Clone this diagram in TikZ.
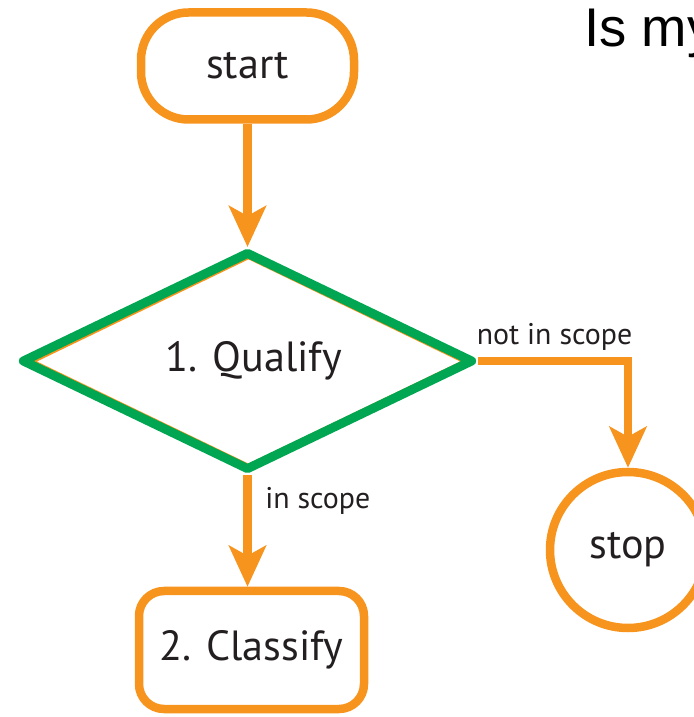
\documentclass[tikz,border=0pt]{standalone}
\usepackage{fontspec}
\setmainfont{PT Sans}
\newfontfamily\headfont{Liberation Sans}
\usetikzlibrary{arrows.meta,positioning}
\usetikzlibrary{shapes.geometric, backgrounds}
\definecolor{flowor}{HTML}{F7941D}
\definecolor{flowgr}{HTML}{00A651}
\definecolor{flowtxt}{HTML}{231F20}

\begin{document}
\begin{tikzpicture}[
    >={Stealth[length=0.82cm, width=0.74cm, inset=0.2cm]},
    % shared orange stroke
    flowline/.style={draw=flowor, line width=0.17cm},
    bigtext/.style={font=\fontsize{24}{28}\selectfont, text=flowtxt},
    smalltext/.style={font=\fontsize{17}{20}\selectfont, text=flowtxt},
    terminal/.style={flowline, bigtext, rounded corners=0.95cm, minimum width=4.26cm, minimum height=2.14cm},
    process/.style={flowline, bigtext, rounded corners=0.5cm, minimum width=4.5cm, minimum height=2.36cm},
    decision/.style={diamond, aspect=2.07, draw=flowgr, line width=0.18cm, line join=round, bigtext, minimum width=9.04cm, minimum height=4.38cm},
    stopper/.style={circle, flowline, bigtext, minimum size=3.12cm}
]

% --- 1. Frame (cropped like the reference) ---
\useasboundingbox (0,0) rectangle (13.88, 14.34);
\clip (0,0) rectangle (13.88, 14.34);

% --- 2. Nodes ---
\node[terminal] (start) at (4.95, 13.02) {start};
\node[decision] (qualify) at (4.95, 7.12) {\hspace{0.25cm}1. Qualify};
\node[process] (classify) at (5.03, 1.34) {2. Classify};
\node[stopper] (stop) at (12.56, 3.34) {stop};

% title, cut off at the right edge
\node[anchor=base west, inner sep=0pt, font=\headfont\fontsize{31}{37}\selectfont] (title) at (11.68, 13.4) {Is my};

% --- 3. Connectors (behind the nodes) ---
\begin{scope}[on background layer]
% thin orange outline peeking out inside the green diamond
\node[diamond, aspect=2.07, draw=flowor, line width=0.05cm, minimum width=8.6cm, minimum height=4.16cm] (qualify_under) at (4.97, 7.11) {};
\draw[flowline, ->] (start) -- (qualify);
\draw[flowline, ->] (qualify.east) -| (stop.north)
    node[pos=0, anchor=south west, smalltext, inner sep=2pt, xshift=-0.18cm, yshift=0.06cm] (no_label) {not in scope};
\draw[flowline, ->] (qualify.south) -- (qualify.south |- classify.north)
    node[pos=0, anchor=north west, smalltext, inner sep=2pt, xshift=0.2cm, yshift=-0.1cm] (yes_label) {in scope};
\end{scope}

\end{tikzpicture}
\end{document}
